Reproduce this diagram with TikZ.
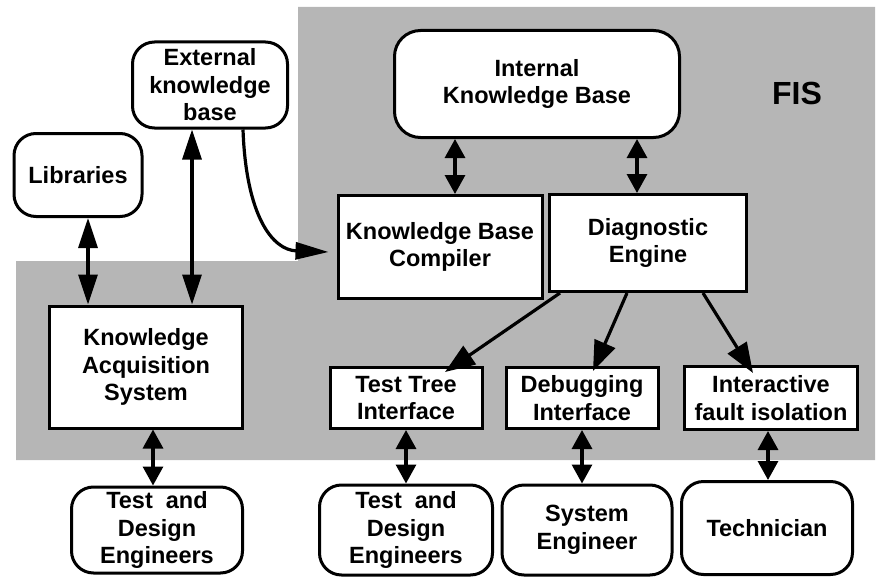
\documentclass[tikz,border=0pt]{standalone}
\usepackage{fontspec}
\setmainfont{Liberation Sans}
\usetikzlibrary{arrows.meta}
\definecolor{shadegray}{RGB}{182,182,182}
\tikzset{
  box/.style={draw=black, line width=3pt, fill=white, align=center, inner sep=0pt,
    font=\bfseries\fontsize{23.5}{27.5}\selectfont},
  rbox/.style={box, rounded corners=22pt},
  conn/.style={line width=3.2pt},
  dblbig/.style={conn, {Triangle[length=30pt,width=19pt]}-{Triangle[length=30pt,width=19pt]}},
  dblsmall/.style={conn, {Triangle[length=19pt,width=20pt]}-{Triangle[length=19pt,width=20pt]}},
  diag/.style={conn, -{Triangle[length=30pt,width=22pt]}},
  curv/.style={conn, -{Triangle[length=33pt,width=17pt]}},
}
\begin{document}
\begin{tikzpicture}[x=1pt,y=-1pt]
\useasboundingbox (0,0) rectangle (878,578);
% shaded FIS region
\fill[shadegray] (298,7) -- (875,7) -- (875,460) -- (16,460) -- (16,261) -- (298,261) -- cycle;

\node[rbox, minimum width=155pt, minimum height=86pt] (ext) at (210,85) {External\\knowledge\\base};
\node[rbox, minimum width=128pt, minimum height=83pt] (lib) at (78,175) {Libraries};
\node[rbox, minimum width=285pt, minimum height=107pt, rounded corners=26pt] (ikb) at (537,84) {Internal\\Knowledge Base};
\node[box, minimum width=204pt, minimum height=103pt] (kbc) at (440,247) {Knowledge Base\\Compiler};
\node[box, minimum width=197pt, minimum height=97pt] (de) at (648,243) {Diagnostic\\Engine};
\node[box, minimum width=193pt, minimum height=122pt] (kas) at (146,367) {Knowledge\\Acquisition\\System};
\node[box, minimum width=152pt, minimum height=61pt] (tti) at (406,398) {Test Tree\\Interface};
\node[box, minimum width=152pt, minimum height=61pt] (dbi) at (582,398) {Debugging\\Interface};
\node[box, minimum width=173pt, minimum height=63pt] (ifi) at (771,398) {Interactive\\fault isolation};
\node[rbox, minimum width=171pt, minimum height=86pt] (tde1) at (157,530) {Test\ \ and\\Design\\Engineers};
\node[rbox, minimum width=173pt, minimum height=90pt] (tde2) at (406,530) {Test\ \ and\\Design\\Engineers};
\node[rbox, minimum width=170pt, minimum height=90pt] (se) at (587,530) {System\\Engineer};
\node[rbox, minimum width=171pt, minimum height=93pt] (tech) at (767,528) {Technician};
\node[font=\bfseries\fontsize{32}{32}\selectfont] (fis) at (797,93) {FIS};

% connectors
\path ([xshift=10pt]lib.south) coordinate (a1);
\draw[dblbig] (a1) -- (a1 |- kas.north);
\path ([xshift=-18pt]ext.south) coordinate (a2);
\draw[dblbig] (a2) -- (a2 |- kas.north);
\draw[curv] ([xshift=33pt]ext.south) .. controls (246,215) and (272,250) .. ([xshift=-8pt,yshift=-5pt]kbc.west);
\path ([xshift=15pt]kbc.north) coordinate (a3);
\draw[dblsmall] (a3 |- ikb.south) -- (a3);
\path ([xshift=-11pt]de.north) coordinate (a4);
\draw[dblsmall] (a4 |- ikb.south) -- (a4);
\draw[diag] ([xshift=-88pt]de.south) -- ([xshift=39pt,yshift=-6pt]tti.north);
\draw[diag] ([xshift=-21pt]de.south) -- ([xshift=11pt,yshift=-5pt]dbi.north);
\draw[diag] ([xshift=55pt]de.south) -- ([xshift=-18pt,yshift=-8pt]ifi.north);
\path ([xshift=7pt]kas.south) coordinate (a5);
\draw[dblsmall] (a5) -- (a5 |- tde1.north);
\draw[dblsmall] (tti.south) -- (tti.south |- tde2.north);
\draw[dblsmall] (dbi.south) -- (dbi.south |- se.north);
\path ([xshift=-3pt]ifi.south) coordinate (a6);
\draw[dblsmall] (a6) -- (a6 |- tech.north);
\end{tikzpicture}
\end{document}
